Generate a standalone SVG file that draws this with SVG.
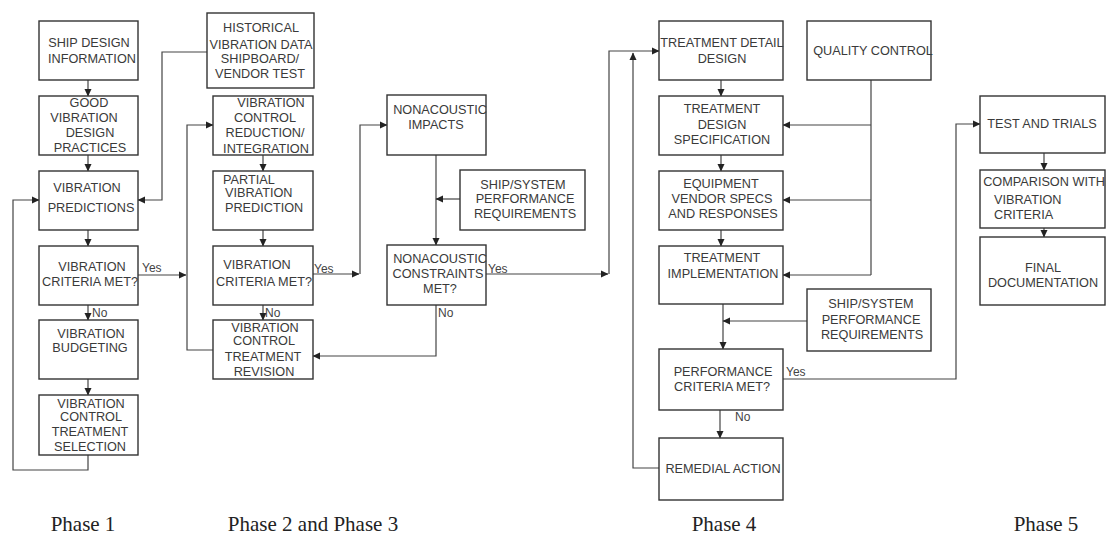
<svg xmlns="http://www.w3.org/2000/svg" width="1110" height="541" viewBox="0 0 1110 541">
<style>
.box{fill:#fff;stroke:#333;stroke-width:1.4}
.t{font-family:"Liberation Sans",Arial,sans-serif;font-size:12.7px;fill:#3a3a3a;text-anchor:middle}
.tl{font-family:"Liberation Sans",Arial,sans-serif;font-size:12.7px;fill:#3a3a3a}
.yn{font-family:"Liberation Sans",Arial,sans-serif;font-size:12px;fill:#444}
.ph{font-family:"Liberation Serif","Times New Roman",serif;font-size:21px;fill:#222;text-anchor:middle}
.c{fill:none;stroke:#444;stroke-width:1.2}
</style>
<defs>
<marker id="ah" markerWidth="8" markerHeight="8" refX="7" refY="4" orient="auto" markerUnits="userSpaceOnUse">
<path d="M0,0.5 L7.5,4 L0,7.5 Z" fill="#222"/>
</marker>
</defs>
<rect width="1110" height="541" fill="#fff"/>

<g id="connectors">
<path class="c" d="M88,80 V96" marker-end="url(#ah)"/>
<path class="c" d="M88,155 V171" marker-end="url(#ah)"/>
<path class="c" d="M88,230 V246" marker-end="url(#ah)"/>
<path class="c" d="M88,305 V320" marker-end="url(#ah)"/>
<path class="c" d="M88,379 V395" marker-end="url(#ah)"/>
<path class="c" d="M88,455 V470 H13 V200 H39" marker-end="url(#ah)"/>
<path class="c" d="M207,52 H162 V200 H138" marker-end="url(#ah)"/>
<path class="c" d="M138,275 H186" marker-end="url(#ah)"/>
<path class="c" d="M213,350 H187 V125 H213" marker-end="url(#ah)"/>
<path class="c" d="M263,155 V171" marker-end="url(#ah)"/>
<path class="c" d="M263,230 V246" marker-end="url(#ah)"/>
<path class="c" d="M263,305 V320" marker-end="url(#ah)"/>
<path class="c" d="M313,274 H359" marker-end="url(#ah)"/>
<path class="c" d="M360,274 V125 H387" marker-end="url(#ah)"/>
<path class="c" d="M436,155 V245" marker-end="url(#ah)"/>
<path class="c" d="M460,199 H436" marker-end="url(#ah)"/>
<path class="c" d="M486,274 H608" marker-end="url(#ah)"/>
<path class="c" d="M609,274 V51 H659" marker-end="url(#ah)"/>
<path class="c" d="M436,305 V356 H313" marker-end="url(#ah)"/>
<path class="c" d="M659,468 H633 V53" marker-end="url(#ah)"/>
<path class="c" d="M721,80 V96" marker-end="url(#ah)"/>
<path class="c" d="M721,155 V171" marker-end="url(#ah)"/>
<path class="c" d="M721,230 V246" marker-end="url(#ah)"/>
<path class="c" d="M871,80 V275"/>
<path class="c" d="M871,125 H783" marker-end="url(#ah)"/>
<path class="c" d="M871,200 H783" marker-end="url(#ah)"/>
<path class="c" d="M871,275 H783" marker-end="url(#ah)"/>
<path class="c" d="M723,304 V349" marker-end="url(#ah)"/>
<path class="c" d="M807,321 H723" marker-end="url(#ah)"/>
<path class="c" d="M783,379 H956 V124 H980" marker-end="url(#ah)"/>
<path class="c" d="M720,410 V438" marker-end="url(#ah)"/>
<path class="c" d="M1044,153 V170" marker-end="url(#ah)"/>
<path class="c" d="M1044,228 V237" marker-end="url(#ah)"/>
<text class="yn" x="142" y="272">Yes</text>
<text class="yn" x="92" y="317">No</text>
<text class="yn" x="314" y="273">Yes</text>
<text class="yn" x="265" y="317">No</text>
<text class="yn" x="488" y="273">Yes</text>
<text class="yn" x="438" y="317">No</text>
<text class="yn" x="786" y="376">Yes</text>
<text class="yn" x="735" y="421">No</text>
</g>

<g id="ship-design-info"><rect class="box" x="39" y="21" width="99" height="59"/>
<text class="t" x="89" y="47">SHIP DESIGN</text><text class="t" x="92" y="63">INFORMATION</text></g>
<g id="good-practices"><rect class="box" x="39" y="96" width="99" height="59"/>
<text class="t" x="89" y="107">GOOD</text><text class="t" x="84" y="122">VIBRATION</text><text class="t" x="90" y="137">DESIGN</text><text class="t" x="90" y="152">PRACTICES</text></g>
<g id="vibration-predictions"><rect class="box" x="39" y="171" width="99" height="59"/>
<text class="t" x="87" y="192">VIBRATION</text><text class="t" x="91" y="212">PREDICTIONS</text></g>
<g id="criteria-met-1"><rect class="box" x="39" y="246" width="99" height="59"/>
<text class="t" x="92" y="271">VIBRATION</text><text class="t" x="90" y="286">CRITERIA MET?</text></g>
<g id="budgeting"><rect class="box" x="39" y="320" width="99" height="59"/>
<text class="t" x="91" y="338">VIBRATION</text><text class="t" x="90" y="352">BUDGETING</text></g>
<g id="treatment-selection"><rect class="box" x="39" y="395" width="99" height="60"/>
<text class="t" x="91" y="408">VIBRATION</text><text class="t" x="91" y="421">CONTROL</text><text class="t" x="90" y="436">TREATMENT</text><text class="t" x="90" y="451">SELECTION</text></g>

<g id="historical-data"><rect class="box" x="207" y="13" width="107" height="75"/>
<text class="t" x="261" y="32">HISTORICAL</text><text class="t" x="261" y="49">VIBRATION DATA</text><text class="t" x="260" y="63">SHIPBOARD/</text><text class="t" x="260" y="78">VENDOR TEST</text></g>
<g id="reduction-integration"><rect class="box" x="213" y="96" width="100" height="59"/>
<text class="t" x="271" y="107">VIBRATION</text><text class="t" x="265" y="122">CONTROL</text><text class="t" x="265" y="137">REDUCTION/</text><text class="t" x="266" y="153">INTEGRATION</text></g>
<g id="partial-prediction"><rect class="box" x="213" y="171" width="100" height="59"/>
<text class="tl" x="223" y="184">PARTIAL</text><text class="tl" x="225" y="197">VIBRATION</text><text class="tl" x="225" y="212">PREDICTION</text></g>
<g id="criteria-met-2"><rect class="box" x="213" y="246" width="100" height="59"/>
<text class="t" x="257" y="269">VIBRATION</text><text class="t" x="264" y="286">CRITERIA MET?</text></g>
<g id="treatment-revision"><rect class="box" x="213" y="320" width="100" height="59"/>
<text class="t" x="265" y="332">VIBRATION</text><text class="t" x="264" y="345">CONTROL</text><text class="t" x="263" y="361">TREATMENT</text><text class="t" x="264" y="376">REVISION</text></g>

<g id="nonacoustic-impacts"><rect class="box" x="387" y="95" width="99" height="60"/>
<text class="t" x="440" y="114">NONACOUSTIC</text><text class="t" x="436" y="129">IMPACTS</text></g>
<g id="ship-system-req-1"><rect class="box" x="460" y="170" width="125" height="60"/>
<text class="t" x="523" y="189">SHIP/SYSTEM</text><text class="t" x="525" y="203">PERFORMANCE</text><text class="t" x="525" y="218">REQUIREMENTS</text></g>
<g id="nonacoustic-constraints"><rect class="box" x="387" y="245" width="99" height="60"/>
<text class="t" x="440" y="263">NONACOUSTIC</text><text class="t" x="438" y="278">CONSTRAINTS</text><text class="t" x="440" y="293">MET?</text></g>

<g id="treatment-detail-design"><rect class="box" x="659" y="21" width="124" height="59"/>
<text class="t" x="722" y="47">TREATMENT DETAIL</text><text class="t" x="722" y="63">DESIGN</text></g>
<g id="quality-control"><rect class="box" x="807" y="21" width="124" height="59"/>
<text class="t" x="873" y="55">QUALITY CONTROL</text></g>
<g id="treatment-design-spec"><rect class="box" x="659" y="96" width="124" height="59"/>
<text class="t" x="722" y="113">TREATMENT</text><text class="t" x="722" y="129">DESIGN</text><text class="t" x="722" y="144">SPECIFICATION</text></g>
<g id="equipment-vendor-specs"><rect class="box" x="659" y="171" width="124" height="59"/>
<text class="t" x="721" y="188">EQUIPMENT</text><text class="t" x="722" y="203">VENDOR SPECS</text><text class="t" x="723" y="218">AND RESPONSES</text></g>
<g id="treatment-implementation"><rect class="box" x="659" y="246" width="124" height="58"/>
<text class="t" x="722" y="262">TREATMENT</text><text class="t" x="723" y="278">IMPLEMENTATION</text></g>
<g id="ship-system-req-2"><rect class="box" x="807" y="289" width="124" height="62"/>
<text class="t" x="871" y="308">SHIP/SYSTEM</text><text class="t" x="871" y="324">PERFORMANCE</text><text class="t" x="872" y="339">REQUIREMENTS</text></g>
<g id="performance-criteria"><rect class="box" x="659" y="349" width="124" height="61"/>
<text class="t" x="723" y="376">PERFORMANCE</text><text class="t" x="722" y="391">CRITERIA MET?</text></g>
<g id="remedial-action"><rect class="box" x="659" y="438" width="124" height="62"/>
<text class="t" x="723" y="473">REMEDIAL ACTION</text></g>

<g id="test-and-trials"><rect class="box" x="980" y="96" width="125" height="57"/>
<text class="t" x="1042" y="128">TEST AND TRIALS</text></g>
<g id="comparison"><rect class="box" x="980" y="170" width="125" height="58"/>
<text class="t" x="1044" y="186">COMPARISON WITH</text><text class="tl" x="994" y="204">VIBRATION</text><text class="tl" x="994" y="219">CRITERIA</text></g>
<g id="final-documentation"><rect class="box" x="980" y="237" width="125" height="68"/>
<text class="t" x="1043" y="272">FINAL</text><text class="t" x="1043" y="287">DOCUMENTATION</text></g>

<g id="phase-labels">
<text class="ph" x="83" y="531">Phase 1</text>
<text class="ph" x="313" y="531">Phase 2 and Phase 3</text>
<text class="ph" x="724" y="531">Phase 4</text>
<text class="ph" x="1046" y="531">Phase 5</text>
</g>
</svg>
